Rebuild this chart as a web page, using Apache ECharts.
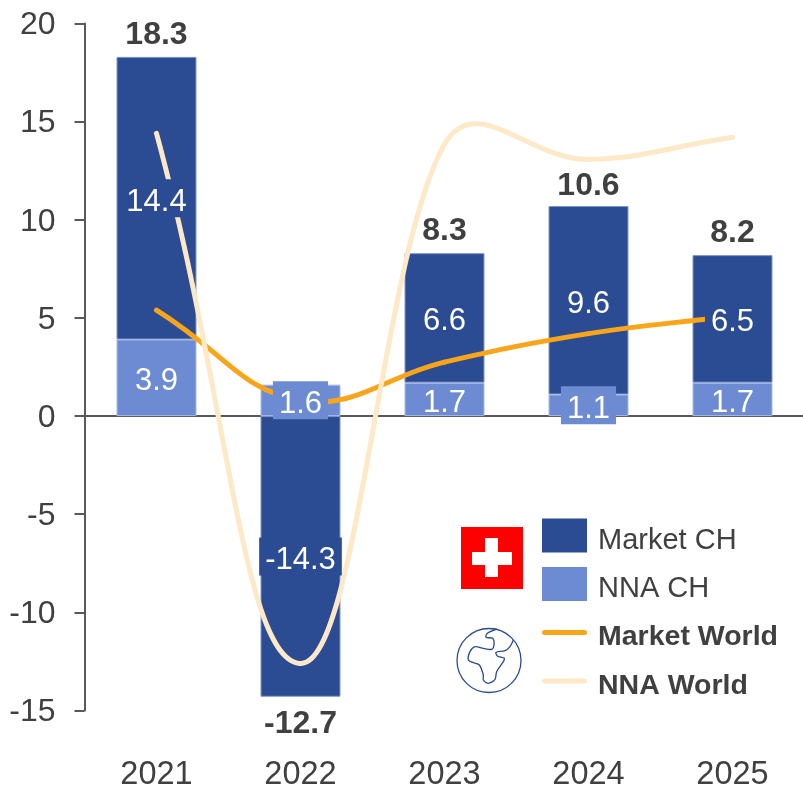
<!DOCTYPE html>
<html><head><meta charset="utf-8">
<style>html,body{margin:0;padding:0;background:#fff}#c{width:803px;height:786px}</style>
<script src="https://cdn.jsdelivr.net/npm/echarts@6/dist/echarts.min.js"></script>
</head><body><div id="c"></div>
<script>
const categories = ['2021','2022','2023','2024','2025'];
const nnaCH = [3.9, 1.6, 1.7, 1.1, 1.7];
const marketCH = [14.4, -14.3, 6.6, 9.6, 6.5];
const totals = [18.3, -12.7, 8.3, 10.6, 8.2];
const marketWorld = [5.4, 0.8, 2.75, 4.2, 5.1];
const nnaWorld = [14.4, -12.6, 13.85, 13.07, 14.2];
const FONT = '"Liberation Sans"';
const DARK = '#2B4C93', LIGHT = '#6D8BD3', ORANGE = '#F9A51A', CREAM = '#FDE8C8', TXT = '#404040';
const GLOBE = [[140,27],[112,40],[108,52],[128,55],[132,75],[125,88],[100,85],[75,80],[60,95],[55,120],[70,128],[88,135],[100,165],[100,180],[115,190],[135,178],[140,155],[160,125],[163,115],[142,108],[138,97],[165,92],[180,80],[190,60]];
const LINE_ICON = 'path://M2.5 0H42.5A2.5 2.5 0 0 1 42.5 5H2.5A2.5 2.5 0 0 1 2.5 0Z';
const SMOOTH = 0.4, MAX_SHARE = 0.55, MIN_SHARE = 0.27, END_PULL = 0.5;
const chart = echarts.init(document.getElementById('c'));
function barLabel(bg){
  return {show:true, position:'inside', backgroundColor:bg, padding:[4,6,4,6],
    formatter:p=>'{v|'+p.value.toFixed(1)+'}',
    rich:{v:{color:'#fff', fontFamily:FONT, fontSize:31, lineHeight:30, padding:[8,0,0,0]}}};
}
// smooth curve that may overshoot its points, built on the axis scales
function curveItem(vals){
  return function(params, api){
    const i = params.dataIndex, n = vals.length;
    if (i >= n - 1) return null;
    const p = k => api.coord([k, vals[k]]);
    const share = r => Math.max(MIN_SHARE, Math.min(MAX_SHARE, r));
    const tan = k => {
      if (k <= 0 || k >= n - 1) {
        const c = p(k), o = p(k <= 0 ? 1 : n - 2);
        const d = [(o[0]-c[0])*END_PULL, (o[1]-c[1])*END_PULL];
        return {a:d, b:d};
      }
      const a = p(k-1), c = p(k), b = p(k+1);
      const la = Math.hypot(c[0]-a[0], c[1]-a[1]), lb = Math.hypot(b[0]-c[0], b[1]-c[1]);
      const vx = b[0]-a[0], vy = b[1]-a[1], s = la + lb;
      const sa = share(la/s), sb = share(lb/s);
      return {a:[-vx*SMOOTH*sa, -vy*SMOOTH*sa], b:[vx*SMOOTH*sb, vy*SMOOTH*sb]};
    };
    const p0 = p(i), p1 = p(i+1), t0 = tan(i), t1 = tan(i+1);
    return {type:'bezierCurve', shape:{x1:p0[0], y1:p0[1], x2:p1[0], y2:p1[1],
      cpx1:p0[0]+t0.b[0], cpy1:p0[1]+t0.b[1], cpx2:p1[0]+t1.a[0], cpy2:p1[1]+t1.a[1]},
      style:{fill:null, stroke:api.visual('color'), lineWidth:5, lineCap:'round'}};
  };
}
const barBase = {type:'bar', barWidth:80, barGap:'-100%'};
const boldNames = ['Market World','NNA World'];
chart.setOption({
  animation:false,
  textStyle:{fontFamily:FONT},
  grid:{left:84.5, top:23.5, width:720, height:687, containLabel:false, outerBoundsMode:'none'},
  legend:{
    orient:'vertical', left:542, top:516, padding:0, itemWidth:45, itemHeight:34, itemGap:9.5,
    selectedMode:false, itemStyle:{borderWidth:0},
    formatter:n=>(boldNames.includes(n)?'{b|':'{r|')+n+'}',
    textStyle:{fontFamily:FONT, rich:{
      r:{fontFamily:FONT, fontSize:29, color:TXT, lineHeight:24, padding:[10,0,0,6]},
      b:{fontFamily:FONT, fontSize:28.5, fontWeight:'bold', color:TXT, lineHeight:24, padding:[10,0,0,6]}}},
    data:[{name:'Market CH',icon:'rect'},{name:'NNA CH',icon:'rect'},
      {name:'Market World',icon:LINE_ICON},{name:'NNA World',icon:LINE_ICON}]
  },
  xAxis:[
    {type:'category', data:categories, axisLine:{onZero:true, lineStyle:{color:'#595959',width:2}}, axisTick:{show:false}, axisLabel:{show:false}},
    {type:'category', data:categories, position:'bottom', axisLine:{show:false,onZero:false}, axisTick:{show:false},
     axisLabel:{color:TXT, fontFamily:FONT, fontSize:32.5, margin:48}}
  ],
  yAxis:{type:'value', min:-15, max:20, interval:5, splitLine:{show:false},
    axisLine:{show:true,onZero:false,lineStyle:{color:'#595959',width:2}},
    axisTick:{show:true,length:10,lineStyle:{color:'#595959',width:2}},
    axisLabel:{margin:29, formatter:'{t|{value}}',
      rich:{t:{color:TXT, fontFamily:FONT, fontSize:32, padding:[4,0,0,0]}}}},
  series:[
    {...barBase, name:'NNA CH', stack:'a', data:nnaCH, itemStyle:{color:LIGHT,borderColor:'#A9BAE6',borderWidth:1}, z:2},
    {...barBase, name:'Market CH', stack:'a', data:marketCH, itemStyle:{color:DARK,borderColor:'#7E96D0',borderWidth:1}, z:2},
    {name:'Market World', type:'custom', data:marketWorld, renderItem:curveItem(marketWorld), itemStyle:{color:ORANGE}, z:3},
    {name:'NNA World', type:'custom', data:nnaWorld, renderItem:curveItem(nnaWorld), itemStyle:{color:CREAM}, z:3},
    {...barBase, name:'nna-labels', stack:'b', itemStyle:{color:'transparent'}, z:5, label:barLabel(LIGHT),
      data:nnaCH.map(v=>v===1.7?{value:v,label:{backgroundColor:'transparent'}}:v)},
    {...barBase, name:'market-labels', stack:'b', data:marketCH, itemStyle:{color:'transparent'}, z:5, label:barLabel(DARK)},
    {name:'Total', type:'scatter', symbolSize:1, itemStyle:{color:'transparent',opacity:1}, z:5,
      data:totals.map((v,i)=>i===1?{value:v,label:{position:'bottom',offset:[0,37]}}:v),
      label:{show:true, position:'top', distance:5, color:TXT, fontFamily:FONT, fontSize:32, fontWeight:'bold', formatter:p=>p.value.toFixed(1)}}
  ],
  graphic:[
    {type:'rect', shape:{x:461,y:527,width:62,height:62}, style:{fill:'#FF0000'}},
    {type:'rect', shape:{x:472,y:552,width:40,height:13}, style:{fill:'#fff'}},
    {type:'rect', shape:{x:485,y:538,width:13,height:39}, style:{fill:'#fff'}},
    {type:'circle', shape:{cx:489,cy:660.5,r:32}, style:{fill:'none',stroke:DARK,lineWidth:1.3}},
    {type:'polyline', x:450, y:620, scaleX:1/3, scaleY:1/3, shape:{points:GLOBE,smooth:0.3}, style:{fill:'none',stroke:DARK,lineWidth:4}}
  ]
});
</script></body></html>
